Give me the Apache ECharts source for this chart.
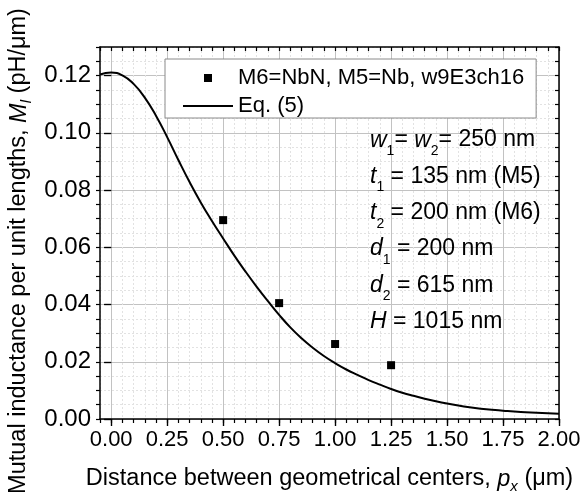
<!DOCTYPE html>
<html>
<head>
<meta charset="utf-8">
<script src="https://cdn.jsdelivr.net/npm/echarts@6/dist/echarts.min.js"></script>
<style>
html,body{margin:0;padding:0;background:#fff;}
#chart{width:581px;height:499px;}
</style>
</head>
<body>
<div id="chart"></div>
<script>
// ---- data ----
const pointX = [0.50, 0.75, 1.00, 1.25];
const pointY = [0.0695, 0.0405, 0.0262, 0.0188];

const curveX = [-0.05, 0.00, 0.05, 0.10, 0.15, 0.20, 0.25, 0.30, 0.35, 0.40,
  0.45, 0.50, 0.55, 0.60, 0.65, 0.70, 0.75, 0.80, 0.85, 0.90,
  0.95, 1.00, 1.05, 1.10, 1.15, 1.20, 1.25, 1.30, 1.35, 1.40,
  1.45, 1.50, 1.55, 1.60, 1.65, 1.70, 1.75, 1.80, 1.85, 1.90, 1.95, 2.00];
const curveY = [0.1204, 0.1211, 0.1201, 0.1171, 0.1123, 0.1060, 0.0985, 0.0905, 0.0828, 0.0757,
  0.0692, 0.0631, 0.0571, 0.0515, 0.0462, 0.0412, 0.0364, 0.0320, 0.0282, 0.0249,
  0.0220, 0.0195, 0.0173, 0.0154, 0.0136, 0.0120, 0.0105, 0.0092, 0.0081, 0.0071,
  0.0062, 0.0054, 0.0047, 0.0041, 0.0036, 0.0032, 0.0029, 0.0026, 0.0024, 0.0022, 0.0020, 0.0018];

const xTickLabels = [0.00, 0.25, 0.50, 0.75, 1.00, 1.25, 1.50, 1.75, 2.00];
const yTickLabels = [0.00, 0.02, 0.04, 0.06, 0.08, 0.10, 0.12];
const xRange = [-0.05, 2.00];
const yRange = [0, 0.13];
const xMinorStep = 0.05;
const yMinorStep = 0.005;

const seriesNames = ['M6=NbN, M5=Nb, w9E3ch16', 'Eq. (5)'];

// ---- chart ----
const FONT = "'Liberation Sans', Arial, Helvetica, sans-serif";
const chart = echarts.init(document.getElementById('chart'), null, {renderer: 'canvas'});

const blackLine = {color: '#000', width: 1.5};
const tickStyle = {color: '#000', width: 1.2};

function minorAxis(pos, range, step, withSplit, inside) {
  return {
    type: 'value', position: pos, min: range[0], max: range[1], interval: step,
    axisLine: {show: true, onZero: false, lineStyle: blackLine},
    axisTick: {show: true, inside: inside, length: 4, lineStyle: tickStyle},
    axisLabel: {show: false},
    splitLine: {show: withSplit, lineStyle: {color: '#e2e2e2', width: 1, type: [2, 2]}}
  };
}
function majorAxis(pos, range, step, ticks, withLabels, inside, fontSize, margin) {
  return {
    type: 'value', position: pos, min: range[0], max: range[1], interval: step,
    axisLine: {show: false},
    axisTick: {show: true, inside: inside, length: 7, lineStyle: tickStyle, customValues: ticks},
    axisLabel: {show: withLabels, customValues: ticks, color: '#000', fontFamily: FONT,
      fontSize: fontSize, margin: margin, formatter: v => Number(v).toFixed(2)},
    splitLine: {show: withLabels, lineStyle: {color: '#c2c2c2', width: 1}}
  };
}

const option = {
  animation: false,
  backgroundColor: '#fff',
  grid: {left: 100, right: 22, top: 47, bottom: 80, containLabel: false, outerBoundsMode: 'none'},
  xAxis: [
    minorAxis('bottom', xRange, xMinorStep, true, false),
    majorAxis('bottom', xRange, xMinorStep, xTickLabels, true, false, 22, 10),
    minorAxis('top', xRange, xMinorStep, false, true),
    majorAxis('top', xRange, xMinorStep, xTickLabels, false, true, 22, 8)
  ],
  yAxis: [
    minorAxis('left', yRange, yMinorStep, true, false),
    majorAxis('left', yRange, yMinorStep, yTickLabels, true, false, 24, 9),
    minorAxis('right', yRange, yMinorStep, false, true),
    majorAxis('right', yRange, yMinorStep, yTickLabels, false, true, 24, 8)
  ],
  legend: {
    orient: 'vertical', left: 165, top: 59,
    padding: [8, 12, 1, 18], itemGap: 6, itemWidth: 50, itemHeight: 8,
    backgroundColor: '#fff', borderColor: '#8a8a8a', borderWidth: 1,
    textStyle: {color: '#000', fontFamily: FONT, fontSize: 22},
    symbolKeepAspect: true,
    data: [
      {name: seriesNames[0], icon: 'path://M0,0H10V10H0Z', itemStyle: {color: '#000', opacity: 1}},
      {name: seriesNames[1], icon: 'path://M0,0H50V2H0Z', itemStyle: {color: '#000', opacity: 1}}
    ]
  },
  series: [
    {
      name: seriesNames[0], type: 'scatter', xAxisIndex: 0, yAxisIndex: 0,
      symbol: 'rect', symbolSize: 8, itemStyle: {color: '#000', opacity: 1}, z: 5,
      data: pointX.map((x, i) => [x, pointY[i]])
    },
    {
      name: seriesNames[1], type: 'line', xAxisIndex: 0, yAxisIndex: 0,
      showSymbol: false, symbol: 'none', smooth: 0.5,
      itemStyle: {color: '#000'}, lineStyle: {color: '#000', width: 2}, z: 4,
      data: curveX.map((x, i) => [x, curveY[i]])
    }
  ],
  graphic: [
    {
      type: 'text', x: 19, y: 251, rotation: Math.PI / 2, z: 10,
      style: {
        text: 'Mutual inductance per unit lengths, {i|M}{s|l} (pH/\u03bcm)',
        fill: '#000', fontFamily: FONT, fontSize: 23.5, lineHeight: 30,
        align: 'center', verticalAlign: 'middle',
        rich: {
          i: {fontStyle: 'italic', fontFamily: FONT, fontSize: 23.5, lineHeight: 30, fill: '#000'},
          s: {fontStyle: 'italic', fontFamily: FONT, fontSize: 15, lineHeight: 15, verticalAlign: 'bottom', fill: '#000'}
        }
      }
    },
    {
      type: 'text', x: 329.5, y: 479, z: 10,
      style: {
        text: 'Distance between geometrical centers, {i|p}{s|x} (\u03bcm)',
        fill: '#000', fontFamily: FONT, fontSize: 23.5, lineHeight: 30,
        align: 'center', verticalAlign: 'middle',
        rich: {
          i: {fontStyle: 'italic', fontFamily: FONT, fontSize: 23.5, lineHeight: 30, fill: '#000'},
          s: {fontStyle: 'italic', fontFamily: FONT, fontSize: 15, lineHeight: 15, verticalAlign: 'bottom', fill: '#000'}
        }
      }
    },
    {
      type: 'text', x: 370, y: 122, z: 10,
      style: {
        text: '{i|w}{s|1}= {i|w}{s|2}= 250 nm\n{i|t}{s|1} = 135 nm (M5)\n{i|t}{s|2} = 200 nm (M6)\n{i|d}{s|1} = 200 nm\n{i|d}{s|2} = 615 nm\n{i|H} = 1015 nm',
        fill: '#000', fontFamily: FONT, fontSize: 23, lineHeight: 36.3,
        align: 'left', verticalAlign: 'top',
        rich: {
          i: {fontStyle: 'italic', fontFamily: FONT, fontSize: 23, lineHeight: 36.3, fill: '#000'},
          s: {fontFamily: FONT, fontSize: 14, lineHeight: 14, verticalAlign: 'bottom', fill: '#000'}
        }
      }
    }
  ]
};
chart.setOption(option);
</script>
</body>
</html>
